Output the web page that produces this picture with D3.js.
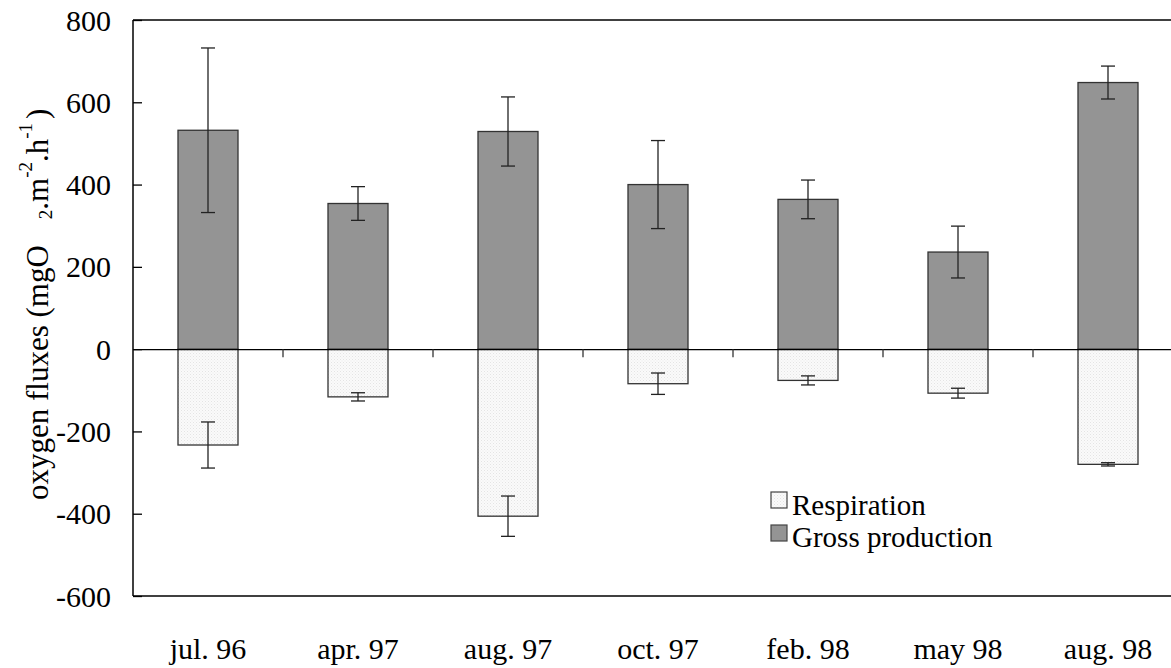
<!DOCTYPE html>
<html>
<head>
<meta charset="utf-8">
<script src="https://cdn.jsdelivr.net/npm/d3@7"></script>
<style>
  body { margin: 0; background: #fff; }
  svg text { font-family: "Liberation Serif", "Times New Roman", serif; }
</style>
</head>
<body>
<div id="chart"></div>
<script>
// data
var months = ["jul. 96", "apr. 97", "aug. 97", "oct. 97", "feb. 98", "may 98", "aug. 98"];
var gross = [532, 354, 529, 400, 364, 236, 648];
var grossErr = [200, 41, 84, 107, 47, 63, 40];
var resp = [-233, -116, -406, -84, -76, -107, -280];
var respErr = [56, 10, 49, 26, 11, 12, 4];
var yTicks = [-600, -400, -200, 0, 200, 400, 600, 800];

var W = 1171, H = 668;
var margin = {left: 133, top: 20, right: -12, bottom: 72};
var width = W - margin.left - margin.right;
var height = H - margin.top - margin.bottom;
var serif = "'Liberation Serif', 'Times New Roman', serif";

var svg = d3.select("#chart").append("svg")
  .attr("width", W).attr("height", H);

// dotted fill for respiration
var pat = svg.append("defs").append("pattern")
  .attr("id", "dots").attr("width", 3).attr("height", 3)
  .attr("patternUnits", "userSpaceOnUse");
pat.append("rect").attr("width", 3).attr("height", 3).attr("fill", "#fafafa");
pat.append("rect").attr("width", 1).attr("height", 1).attr("fill", "#e4e4e4");
pat.append("rect").attr("x", 1.5).attr("y", 1.5).attr("width", 1).attr("height", 1).attr("fill", "#eaeaea");

var g = svg.append("g").attr("transform", "translate(" + margin.left + "," + margin.top + ")");

var x = d3.scaleBand().domain(months).range([0, width]).paddingInner(0).paddingOuter(0);
var y = d3.scaleLinear().domain([-600, 800]).range([height, 0]);
var barW = 60;

// frame
g.append("line").attr("x1", 0).attr("x2", 0).attr("y1", 0).attr("y2", height)
  .attr("stroke", "#000").attr("stroke-width", 1.5);
g.append("line").attr("x1", 0).attr("x2", width).attr("y1", 0).attr("y2", 0)
  .attr("stroke", "#000").attr("stroke-width", 1.5);
g.append("line").attr("x1", 0).attr("x2", width).attr("y1", height).attr("y2", height)
  .attr("stroke", "#000").attr("stroke-width", 1.5);

// y axis (ticks inward)
var yAxis = d3.axisRight(y).tickValues(yTicks).tickSize(9).tickFormat("");
g.append("g").attr("class", "y axis").call(yAxis)
  .call(function(s) {
    s.select(".domain").remove();
    s.selectAll("line").attr("stroke", "#000").attr("stroke-width", 1.3);
  });
g.append("g").selectAll("text").data(yTicks).enter().append("text")
  .attr("x", -22).attr("y", function(d) { return y(d); })
  .attr("dy", "0.35em").attr("text-anchor", "end")
  .attr("font-family", serif).attr("font-size", 30).text(function(d) { return d; });

// bars
var gr = g.append("g");
gr.selectAll("rect.resp").data(months).enter().append("rect")
  .attr("class", "resp")
  .attr("x", function(d) { return x(d) + x.bandwidth() / 2 - barW / 2; })
  .attr("y", y(0))
  .attr("width", barW)
  .attr("height", function(d, i) { return y(resp[i]) - y(0); })
  .attr("fill", "url(#dots)").attr("stroke", "#333").attr("stroke-width", 1.3);
gr.selectAll("rect.gross").data(months).enter().append("rect")
  .attr("class", "gross")
  .attr("x", function(d) { return x(d) + x.bandwidth() / 2 - barW / 2; })
  .attr("y", function(d, i) { return y(gross[i]); })
  .attr("width", barW)
  .attr("height", function(d, i) { return y(0) - y(gross[i]); })
  .attr("fill", "#949494").attr("stroke", "#333").attr("stroke-width", 1.3);

// zero line with category ticks
var xAxis = d3.axisBottom(x).tickSize(0).tickFormat("");
g.append("g").attr("transform", "translate(0," + y(0) + ")").call(xAxis)
  .call(function(s) {
    s.select(".domain").attr("stroke", "#000").attr("stroke-width", 1.3);
    s.selectAll(".tick").remove();
  });
g.append("g").selectAll("line.sep").data(months.slice(1)).enter().append("line")
  .attr("class", "sep")
  .attr("x1", function(d) { return x(d); }).attr("x2", function(d) { return x(d); })
  .attr("y1", y(0)).attr("y2", y(0) + 8)
  .attr("stroke", "#333").attr("stroke-width", 1.3);

// error bars
function errBars(vals, errs) {
  var eg = g.append("g");
  months.forEach(function(m, i) {
    var cx = x(m) + x.bandwidth() / 2;
    var lo = y(vals[i] - errs[i]), hi = y(vals[i] + errs[i]);
    eg.append("line").attr("x1", cx).attr("x2", cx).attr("y1", lo).attr("y2", hi)
      .attr("stroke", "#222").attr("stroke-width", 1.3);
    [lo, hi].forEach(function(yy) {
      eg.append("line").attr("x1", cx - 7).attr("x2", cx + 7).attr("y1", yy).attr("y2", yy)
        .attr("stroke", "#222").attr("stroke-width", 1.3);
    });
  });
}
errBars(gross, grossErr);
errBars(resp, respErr);

// x labels
g.append("g").selectAll("text").data(months).enter().append("text")
  .attr("x", function(d) { return x(d) + x.bandwidth() / 2; })
  .attr("y", height + 63)
  .attr("text-anchor", "middle").attr("font-family", serif).attr("font-size", 30)
  .text(function(d) { return d; });

// y label
var yl = svg.append("text")
  .attr("transform", "translate(48,500) rotate(-90)")
  .attr("text-anchor", "start").attr("font-family", serif).attr("font-size", 31);
yl.append("tspan").text("oxygen fluxes (mgO");
yl.append("tspan").attr("font-size", 19).attr("dx", 26).attr("dy", 4).text("2");
yl.append("tspan").attr("dy", -4).text(".m");
yl.append("tspan").attr("font-size", 19).attr("dy", -16).text("-2");
yl.append("tspan").attr("dy", 16).text(".h");
yl.append("tspan").attr("font-size", 19).attr("dy", -16).text("-1");
yl.append("tspan").attr("dx", 4).attr("dy", 16).text(")");

// legend
var legend = [
  {label: "Respiration", fill: "url(#dots)"},
  {label: "Gross production", fill: "#949494"}
];
var lg = svg.append("g").attr("transform", "translate(771,492)");
lg.selectAll("rect").data(legend).enter().append("rect")
  .attr("x", 0).attr("y", function(d, i) { return i * 33; })
  .attr("width", 16).attr("height", 16)
  .attr("fill", function(d) { return d.fill; })
  .attr("stroke", "#444").attr("stroke-width", 1.2);
lg.selectAll("text").data(legend).enter().append("text")
  .attr("x", 21).attr("y", function(d, i) { return 23 + i * 32; })
  .attr("font-family", serif).attr("font-size", 29).text(function(d) { return d.label; });
</script>
</body>
</html>
